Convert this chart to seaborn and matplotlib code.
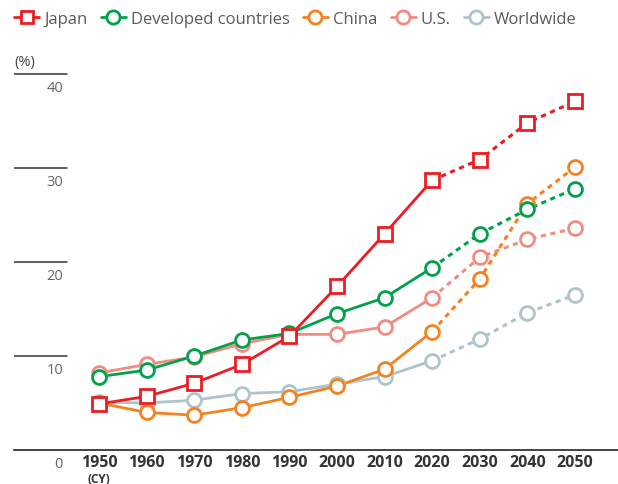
import matplotlib
matplotlib.use("Agg")
import matplotlib.pyplot as plt
from matplotlib.lines import Line2D
import pandas as pd
import seaborn as sns

years = [1950, 1960, 1970, 1980, 1990, 2000, 2010, 2020, 2030, 2040, 2050]
japan = [4.9, 5.7, 7.1, 9.1, 12.1, 17.4, 23.0, 28.7, 30.9, 34.8, 37.1]
developed = [7.8, 8.5, 10.0, 11.7, 12.4, 14.5, 16.2, 19.4, 23.0, 25.6, 27.8]
china = [5.0, 4.0, 3.7, 4.5, 5.6, 6.8, 8.6, 12.6, 18.2, 26.2, 30.1]
us = [8.2, 9.1, 9.9, 11.3, 12.3, 12.3, 13.1, 16.2, 20.5, 22.4, 23.6]
world = [5.1, 5.0, 5.3, 6.0, 6.2, 7.0, 7.8, 9.5, 11.8, 14.6, 16.5]
last_actual = 2020

series = [
    ("Worldwide", world, "#aec3cc", "o"),
    ("U.S.", us, "#f28b82", "o"),
    ("China", china, "#f58220", "o"),
    ("Developed countries", developed, "#00a14b", "o"),
    ("Japan", japan, "#ed1c24", "s"),
]
legend_order = ["Japan", "Developed countries", "China", "U.S.", "Worldwide"]
yticks = [10, 20, 30, 40]

sns.set_style("white")
plt.rcParams["font.family"] = ["Open Sans", "DejaVu Sans"]

fig = plt.figure(figsize=(6.18, 4.85), dpi=100)
ax = fig.add_axes([14 / 618, (485 - 451) / 485, 604 / 618, (451 - 60) / 485])

px = 47.6  # pixels per decade
ax.set_xlim(1950 - 85 / px * 10, 2050 + 43 / px * 10)
ax.set_ylim(0, (451 - 60) / 9.4)

handles = {}
for name, vals, color, marker in series:
    df = pd.DataFrame({"year": years, "value": vals})
    hist = df[df["year"] <= last_actual]
    proj = df[df["year"] >= last_actual]
    sns.lineplot(data=hist, x="year", y="value", ax=ax, color=color, lw=2, zorder=2)
    sns.lineplot(data=proj, x="year", y="value", ax=ax, color=color, lw=2.2,
                 linestyle=(0, (1.7, 1.5)), zorder=2)
    ms = 9.5 if marker == "s" else 10
    ax.plot(df["year"], df["value"], linestyle="none", marker=marker, ms=ms,
            mfc="white", mec=color, mew=2, zorder=3)
    handles[name] = Line2D([], [], color=color, lw=2, marker=marker, ms=ms - 0.5,
                           mfc="white", mec=color, mew=2)

for s in ["top", "right", "left"]:
    ax.spines[s].set_visible(False)
ax.spines["bottom"].set_color("#222222")
ax.spines["bottom"].set_linewidth(1.2)

ax.set_yticks([])
for y in yticks:
    ax.axhline(y, xmin=0, xmax=53 / 604, color="#333333", lw=1.1)
    ax.text(49 / 604, y - 0.6, str(y), transform=ax.get_yaxis_transform(),
            ha="right", va="top", fontsize=10.5, color="#666666")
ax.text(49 / 604, -0.6, "0", transform=ax.get_yaxis_transform(),
        ha="right", va="top", fontsize=10.5, color="#666666")
ax.text(0, 40 + 0.5, "(%)", transform=ax.get_yaxis_transform(),
        ha="left", va="bottom", fontsize=10.5, color="#444444")

ax.set_xticks(years)
ax.set_xticklabels([str(y) for y in years], fontsize=11.5, fontweight="bold",
                   color="#333333")
ax.tick_params(axis="x", length=0, pad=3)
ax.text(1950, -2.3, "(CY)", ha="center", va="top", fontsize=8.5,
        fontweight="bold", color="#333333")
ax.set_xlabel("")
ax.set_ylabel("")

fig.legend([handles[n] for n in legend_order], legend_order, loc="upper left",
           bbox_to_anchor=(14 / 618, 1 - 12 / 485), ncol=5, frameon=False,
           fontsize=12, handlelength=1.5, handletextpad=0.3, columnspacing=0.8,
           labelcolor="#5a5a5a", borderaxespad=0, borderpad=0)

fig.savefig("out.png", dpi=100)
